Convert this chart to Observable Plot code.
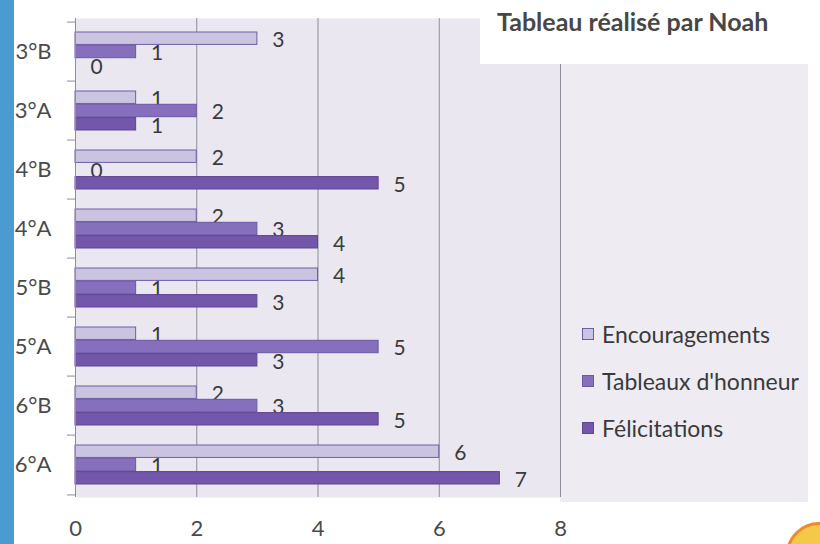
<!DOCTYPE html>
<html>
<head>
<meta charset="utf-8">
<script src="https://cdn.jsdelivr.net/npm/d3@7"></script>
<script src="https://cdn.jsdelivr.net/npm/@observablehq/plot@0.6"></script>
<style>
  html, body { margin: 0; padding: 0; background: #ffffff; }
  #wrap { position: relative; width: 820px; height: 544px; overflow: hidden; font-family: Lato, "Open Sans", sans-serif; }
  #strip { position: absolute; left: 0; top: 0; width: 14px; height: 544px; background: #4b9bd2; }
  #bg { position: absolute; left: 560px; top: 18px; width: 248px; height: 484px; background: #eeebf3; }
  #titlebox { position: absolute; left: 480px; top: 0; width: 340px; height: 64px; background: #ffffff; }
  #title { position: absolute; left: 497px; top: 6px; font-weight: bold; font-size: 25px; color: #474747; white-space: nowrap; }
  #legend { position: absolute; left: 582px; top: 310px; }
  .item { display: flex; align-items: center; height: 47px; font-size: 23px; color: #3a3a3a; }
  .sw { width: 10px; height: 10px; margin-right: 8px; border: 1px solid #6f5ea3; }
  #chart { position: absolute; left: 0; top: 0; }
  #sticker { position: absolute; left: 786px; top: 522px; width: 60px; height: 60px; border-radius: 50%; background: #f6c84a; border: 3px solid #ee8a2a; }
</style>
</head>
<body>
<div id="wrap">
  <div id="strip"></div>
  <div id="bg"></div>
  <div id="chart"></div>
  <div id="titlebox"></div>
  <div id="title"></div>
  <div id="legend"></div>
  <div id="sticker"></div>
</div>
<script>
const categories = ["3°B", "3°A", "4°B", "4°A", "5°B", "5°A", "6°B", "6°A"];
const seriesNames = ["Encouragements", "Tableaux d'honneur", "Félicitations"];
const encouragements = [3, 1, 2, 2, 4, 1, 2, 6];
const tableauxHonneur = [1, 2, 0, 3, 1, 5, 3, 1];
const felicitations = [0, 1, 5, 4, 3, 3, 5, 7];
const xTicks = [0, 2, 4, 6, 8];
const titleText = "Tableau réalisé par Noah";

const seriesValues = [encouragements, tableauxHonneur, felicitations];
const fills = ["#cbc4e1", "#8670bd", "#7257aa"];
const strokes = ["#6f5ea3", "#6c57a5", "#5e4596"];

const rows = [];
seriesNames.forEach((s, i) => categories.forEach((c, j) => rows.push({ cls: c, series: s, value: seriesValues[i][j] })));

const step = 479 / 8;
const barH = (step - 20) / 3;
const insets = [
  { insetTop: 10, insetBottom: step - 10 - barH },
  { insetTop: 10 + barH, insetBottom: 10 + barH },
  { insetTop: step - 10 - barH, insetBottom: 10 }
];
const dys = [-barH + 1.5, 1.5, barH + 1.5];

const marks = [
  Plot.frame({ fill: "#eae7f1", stroke: null }),
  Plot.ruleX(xTicks.slice(1), { stroke: "#8e8d99", strokeWidth: 1 })
];
seriesNames.forEach((s, i) => {
  const data = rows.filter(d => d.series === s);
  marks.push(Plot.barX(data.filter(d => d.value > 0), {
    x: "value", y: "cls", fill: fills[i], stroke: strokes[i], strokeWidth: 1, ...insets[i]
  }));
  marks.push(Plot.text(data, {
    x: "value", y: "cls", text: d => String(d.value), dx: 21, dy: dys[i],
    fill: "#3a3a3a", fontSize: 21
  }));
});
marks.push(
  Plot.ruleX([0], { stroke: "#8e8d99" }),
  Plot.axisY({ tickSize: 8, dy: -step / 2, tickFormat: () => "", stroke: "#8e8d99" }),
  Plot.axisY({ ticks: [categories[categories.length - 1]], tickSize: 8, dy: step / 2, tickFormat: () => "", stroke: "#8e8d99" }),
  Plot.axisY({ tickSize: 0, tickPadding: 24, fontSize: 22, fill: "#4a4a4a" }),
  Plot.axisX({ ticks: xTicks, tickSize: 0, tickPadding: 23, fontSize: 22, fill: "#4a4a4a" })
);

const chart = Plot.plot({
  width: 820, height: 544,
  marginLeft: 75, marginRight: 260, marginTop: 18, marginBottom: 47,
  style: { fontFamily: "Lato, 'Open Sans', sans-serif", fontSize: "22px", background: "transparent", color: "#4a4a4a" },
  x: { domain: [0, 8], label: null },
  y: { domain: categories, padding: 0, label: null },
  marks
});
document.getElementById("chart").appendChild(chart);
document.getElementById("title").textContent = titleText;

const legend = document.getElementById("legend");
seriesNames.forEach((s, i) => {
  const item = document.createElement("div");
  item.className = "item";
  const sw = document.createElement("span");
  sw.className = "sw";
  sw.style.background = fills[i];
  sw.style.borderColor = strokes[i];
  item.appendChild(sw);
  const t = document.createElement("span");
  t.textContent = s;
  item.appendChild(t);
  legend.appendChild(item);
});
</script>
</body>
</html>
